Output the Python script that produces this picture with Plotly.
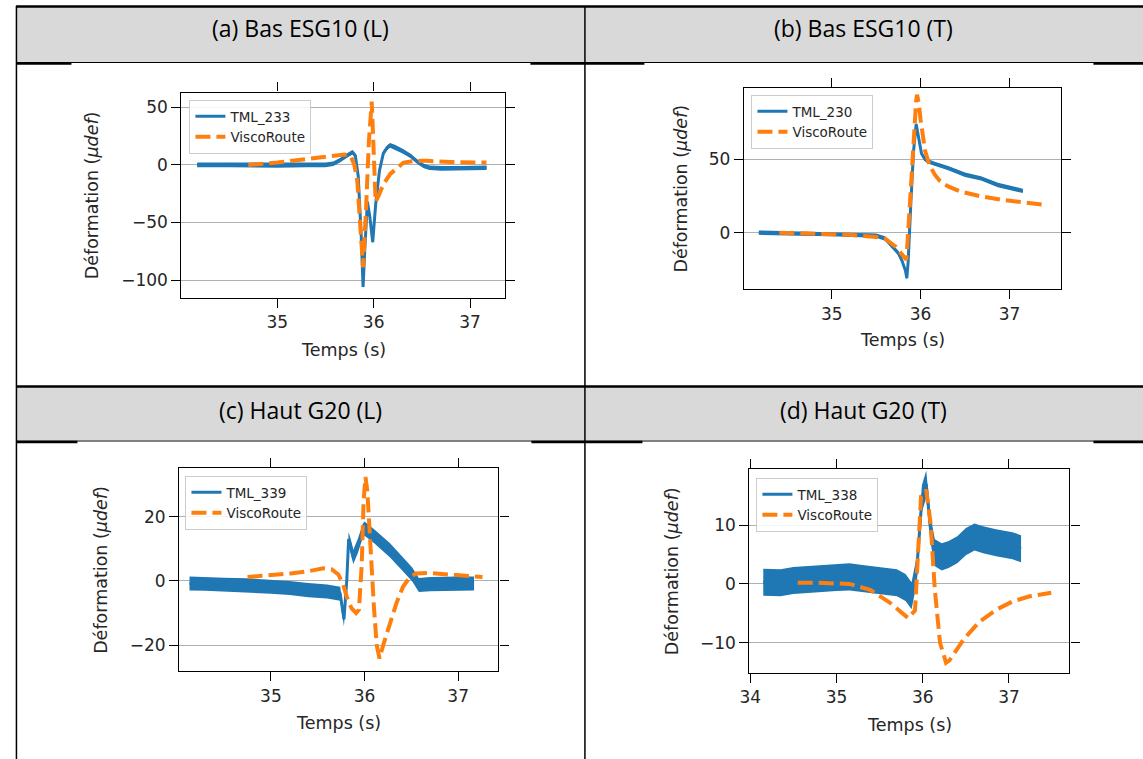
import plotly.graph_objects as go

W, H = 1143, 759

# ---------------- data ----------------
headers = ["(a) Bas ESG10 (L)", "(b) Bas ESG10 (T)", "(c) Haut G20 (L)", "(d) Haut G20 (T)"]
blue_names = ["TML_233", "TML_230", "TML_339", "TML_338"]
orange_name = "ViscoRoute"

# (a) Bas ESG10 (L)
a_blue_t = [34.17, 34.5, 35.0, 35.3, 35.5, 35.58, 35.65, 35.72, 35.78, 35.81, 35.84, 35.87, 35.89, 35.91,
            35.935, 35.96, 35.99, 36.02, 36.06, 36.10, 36.14, 36.17, 36.22, 36.30, 36.38, 36.45, 36.52,
            36.58, 36.7, 36.9, 37.17]
a_blue_v = [0, 0, -0.5, 0, 0, 1, 4, 8, 11, 8, -10, -60, -106, -70,
            -32, -45, -67, -35, -5, 10, 15, 17, 15.5, 12, 8, 3, -1,
            -2.5, -3, -3, -2.5]
a_blue_noise = 2.0
a_or_t = [34.70, 35.0, 35.3, 35.55, 35.70, 35.76, 35.80, 35.83, 35.86, 35.89, 35.92, 35.95, 35.98, 36.00,
          36.02, 36.05, 36.10, 36.17, 36.25, 36.31, 36.42, 36.55, 36.8, 37.17]
a_or_v = [0, 2, 5, 7.5, 9, 8, 0, -14, -50, -89, -40, 20, 55, 10,
          -32, -27, -17, -8, -2, 2, 3.5, 3.5, 2.5, 2]

# (b) Bas ESG10 (T)
b_blue_t = [34.18, 34.5, 35.0, 35.3, 35.5, 35.6, 35.68, 35.75, 35.79, 35.83, 35.845, 35.86, 35.89, 35.92,
            35.95, 35.98, 36.01, 36.05, 36.09, 36.15, 36.31, 36.5, 36.68, 36.87, 37.0, 37.15]
b_blue_v = [0, -0.5, -1, -1.5, -2, -4, -9, -14, -19, -26, -31, -20, 20, 55,
            74, 64, 54, 50, 48.5, 47, 44, 39.5, 37, 32.5, 30.5, 28.5]
b_blue_noise = 1.5
b_or_t = [34.41, 34.8, 35.2, 35.5, 35.6, 35.72, 35.81, 35.84, 35.87, 35.91, 35.95, 35.96, 35.98, 36.00,
          36.05, 36.10, 36.16, 36.22, 36.31, 36.45, 36.68, 36.9, 37.06, 37.25, 37.40]
b_or_v = [0, -0.5, -1.5, -3, -4, -9.5, -16.3, -18.5, 10, 55, 90, 94, 88, 77,
          56, 46, 39.5, 35, 31.5, 28, 24.7, 22.5, 21.3, 20, 19]

# (c) Haut G20 (L)
c_blue_t = [34.13, 34.3, 34.5, 34.75, 35.0, 35.2, 35.4, 35.6, 35.74, 35.78, 35.81, 35.83, 35.86, 35.88,
            35.93, 35.98, 36.0, 36.1, 36.27, 36.4, 36.51, 36.58, 36.7, 37.0, 37.17]
c_blue_v = [-0.8, -0.9, -1.2, -1.4, -1.8, -2.2, -2.9, -3.3, -4, -12, 0, 13, 10, 7.5,
            11, 15.5, 16.3, 14, 9.6, 5.5, 2, -1.3, -1, -0.8, -0.8]
c_blue_noise = 2.2
c_or_t = [34.75, 35.0, 35.21, 35.4, 35.56, 35.65, 35.72, 35.77, 35.81, 35.86, 35.91, 35.94, 35.97, 35.99,
          36.01, 36.03, 36.06, 36.1, 36.13, 36.16, 36.2, 36.27, 36.34, 36.41, 36.48, 36.55, 36.69, 36.98, 37.26]
c_or_v = [1.2, 1.7, 2.3, 3, 3.9, 3.6, 2, -1, -5, -8.5, -10, -9, 5, 25,
          32.4, 28, 10, -8, -20, -24.2, -20, -13.3, -7, -1.9, 1, 2.3, 2.5, 1.8, 1.2]

# (d) Haut G20 (T)
d_blue_t = [34.15, 34.35, 34.5, 34.75, 35.0, 35.15, 35.3, 35.5, 35.7, 35.8, 35.87, 35.93, 35.99, 36.04,
            36.09, 36.14, 36.22, 36.3, 36.4, 36.5, 36.6, 36.7, 36.85, 37.04, 37.14]
d_blue_v = [0.3, 0.2, 0.6, 0.8, 1.1, 1.2, 0.9, 0.6, 0.2, -0.6, -2, 2.4, 14.5, 17,
            9.3, 5.3, 4.6, 5, 5.8, 7.2, 8, 7.5, 7, 6.5, 6]
d_blue_noise = 2.3
d_or_t = [34.55, 34.76, 35.15, 35.39, 35.62, 35.83, 35.91, 35.94, 35.98, 36.04, 36.09, 36.14, 36.2, 36.27,
          36.31, 36.48, 36.66, 36.85, 37.04, 37.24, 37.49]
d_or_v = [0.2, 0.2, 0, -1, -3.2, -5.8, -4.5, 3.6, 14.9, 16, 10.4, -1, -10, -13.4,
          -13, -9.3, -6.4, -4.4, -3, -2.1, -1.5]

x_ticks = [[35, 36, 37], [35, 36, 37], [35, 36, 37], [34, 35, 36, 37]]
y_ticks = [[-100, -50, 0, 50], [0, 50], [-20, 0, 20], [-10, 0, 10]]

# ---------------- layout geometry (pixels) ----------------
panels = [
    dict(box=(173, 499, 92.5, 297.5), xr=[34.007, 37.358], yr=[-115.2, 62.9],
         leg=(181, 100), ytx=83, xty=350,
         bt=a_blue_t, bv=a_blue_v, bn=a_blue_noise, ot=a_or_t, ov=a_or_v),
    dict(box=(740.3, 1060.3, 87.7, 289.3), xr=[34.011, 37.58], yr=[-38.6, 98.8],
         leg=(748, 95), ytx=677, xty=340,
         bt=b_blue_t, bv=b_blue_v, bn=b_blue_noise, ot=b_or_t, ov=b_or_v),
    dict(box=(170.7, 492.7, 468.3, 671), xr=[34.02, 37.43], yr=[-28.1, 35.1],
         leg=(177, 476), ytx=91, xty=723,
         bt=c_blue_t, bv=c_blue_v, bn=c_blue_noise, ot=c_or_t, ov=c_or_v),
    dict(box=(746, 1068.7, 469.3, 672.7), xr=[33.99, 37.70], yr=[-15.1, 19.5],
         leg=(753, 478), ytx=668, xty=725,
         bt=d_blue_t, bv=d_blue_v, bn=d_blue_noise, ot=d_or_t, ov=d_or_v),
]


def PX(x):
    return x / W


def PY(y):
    return 1 - y / H


BLUE = "#1f77b4"
ORANGE = "#ff7f0e"
FONT = "DejaVu Sans"
TXT = "#262626"

fig = go.Figure()
annotations = []
shapes = []

for i, p in enumerate(panels):
    k = "" if i == 0 else str(i + 1)
    xa, ya = "x" + k, "y" + k
    leg = "legend" + k
    upper = [v + p["bn"] for v in p["bv"]]
    lower = [v - p["bn"] for v in p["bv"]]
    fig.add_trace(go.Scatter(x=p["bt"] + p["bt"][::-1], y=upper + lower[::-1], fill="toself",
                             fillcolor=BLUE, line=dict(width=0), mode="lines", hoverinfo="skip",
                             showlegend=False, xaxis=xa, yaxis=ya))
    fig.add_trace(go.Scatter(x=p["bt"], y=p["bv"], mode="lines", name=blue_names[i],
                             line=dict(color=BLUE, width=3), xaxis=xa, yaxis=ya, legend=leg))
    fig.add_trace(go.Scatter(x=p["ot"], y=p["ov"], mode="lines", name=orange_name,
                             line=dict(color=ORANGE, width=4, dash="15px,6px"),
                             xaxis=xa, yaxis=ya, legend=leg))
    x0, x1, y0, y1 = p["box"]
    axcommon = dict(showline=True, linecolor="black", linewidth=1.3, mirror="ticks",
                    ticks="outside", ticklen=9, tickwidth=1.3, tickcolor="black",
                    zeroline=False, tickfont=dict(family=FONT, size=17, color=TXT))
    fig.layout["xaxis" + k] = dict(domain=[PX(x0), PX(x1)], range=p["xr"], anchor=ya,
                                   tickvals=x_ticks[i], showgrid=False, **axcommon)
    fig.layout["yaxis" + k] = dict(domain=[PY(y1), PY(y0)], range=p["yr"], anchor=xa,
                                   tickvals=y_ticks[i], showgrid=True, gridcolor="#b0b0b0",
                                   gridwidth=1, **axcommon)
    fig.layout[leg] = dict(x=PX(p["leg"][0]), y=PY(p["leg"][1]), xanchor="left", yanchor="top",
                           bgcolor="rgba(255,255,255,0.85)", bordercolor="#cccccc", borderwidth=1,
                           font=dict(family=FONT, size=13.5, color=TXT), tracegroupgap=0,
                           itemwidth=30)
    annotations.append(dict(x=PX(p["ytx"]), y=PY((y0 + y1) / 2), xref="paper", yref="paper",
                            text="Déformation (<i>μdef</i>)", textangle=-90, showarrow=False,
                            font=dict(family=FONT, size=17.5, color=TXT),
                            xanchor="center", yanchor="middle"))
    annotations.append(dict(x=PX((x0 + x1) / 2), y=PY(p["xty"]), xref="paper", yref="paper",
                            text="Temps (s)", showarrow=False,
                            font=dict(family=FONT, size=17.5, color=TXT),
                            xanchor="center", yanchor="middle"))

# ---------------- table frame ----------------
GRAY = "#d9d9d9"
for (ya0, ya1) in [(7, 62), (387, 440)]:
    shapes.append(dict(type="rect", xref="paper", yref="paper", x0=PX(7), x1=PX(1143),
                       y0=PY(ya1), y1=PY(ya0), fillcolor=GRAY, line=dict(width=0), layer="below"))


def hline(x0, x1, y, w):
    shapes.append(dict(type="line", xref="paper", yref="paper", x0=PX(x0), x1=PX(x1),
                       y0=PY(y), y1=PY(y), line=dict(color="black", width=w), layer="below"))


def vline(x, y0, y1, w):
    shapes.append(dict(type="line", xref="paper", yref="paper", x0=PX(x), x1=PX(x),
                       y0=PY(y0), y1=PY(y1), line=dict(color="black", width=w), layer="below"))


hline(6, 1143, 6.5, 2.5)
hline(6, 1143, 386.5, 2.5)
hline(7, 1143, 62.5, 1)
hline(7, 1143, 441, 1)
for (sx0, sx1) in [(7, 62), (525, 580), (580, 640), (1093, 1143)]:
    hline(sx0, sx1, 63.5, 2.5)
for (sx0, sx1) in [(7, 68), (526, 580), (580, 638), (1093, 1143)]:
    hline(sx0, sx1, 442, 2.5)
vline(6.5, 6, 759, 1.5)
vline(580, 6, 759, 1.5)

for i, (hx, hy) in enumerate([(293, 28), (861, 28), (293, 410), (861, 410)]):
    annotations.append(dict(x=PX(hx), y=PY(hy), xref="paper", yref="paper", text=headers[i],
                            showarrow=False, font=dict(family="Open Sans", size=23, color="black"),
                            xanchor="center", yanchor="middle"))

fig.update_layout(width=W, height=H, margin=dict(l=0, r=0, t=0, b=0),
                  paper_bgcolor="white", plot_bgcolor="white",
                  annotations=annotations, shapes=shapes)

fig.write_html("out.html")
